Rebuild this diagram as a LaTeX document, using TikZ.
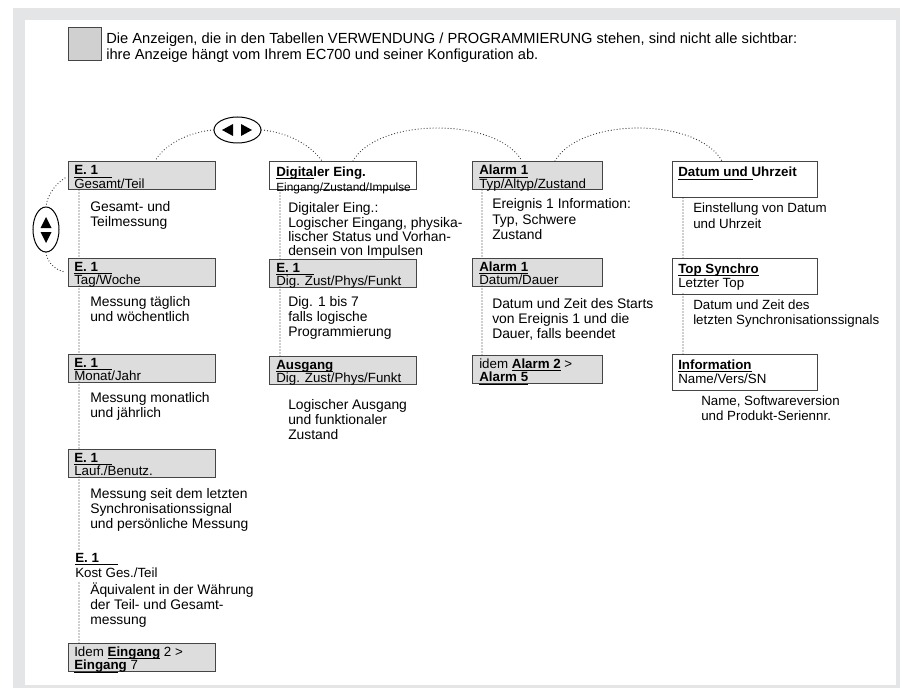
\documentclass[tikz,border=0pt]{standalone}
\usepackage{fontspec}
\setmainfont{Liberation Sans}
\usetikzlibrary{calc,shapes.geometric}
\definecolor{framegray}{HTML}{E4E5E6}
\definecolor{boxgray}{HTML}{DDDDDD}
\definecolor{legendgray}{HTML}{D0D0D0}
\definecolor{edgec}{HTML}{454545}
\definecolor{dotc}{HTML}{333333}
\newcommand\ulx[2]{\rlap{\rule[-2.4pt]{#1}{0.55pt}}#2}
\newcommand\ulf[1]{\setbox0\hbox{#1}\rlap{\rule[-2.4pt]{\wd0}{0.55pt}}\box0}
\newcommand\lines[1]{\begin{tabular}[t]{@{}l@{}}#1\end{tabular}}
\tikzset{
  gbox/.style={draw=edgec, fill=boxgray, line width=0.75pt, anchor=north west, inner sep=0pt, outer sep=0pt, minimum height=21pt},
  wbox/.style={gbox, fill=white},
  btxt/.style={anchor=base west, inner sep=0pt, font=\fontsize{10}{9.75}\selectfont},
  wtxt/.style={anchor=base west, inner sep=0pt, font=\fontsize{10}{10.5}\selectfont},
  desc/.style={anchor=base west, inner sep=0pt, font=\fontsize{10.4}{11.6}\selectfont},
  dots/.style={draw=dotc, line width=0.9pt, line cap=round, dash pattern=on 0pt off 2.25pt},
  oval/.style={ellipse, draw=black, line width=0.75pt, fill=white, inner sep=0pt}
}
\begin{document}
\begin{tikzpicture}[x=0.75pt,y=-0.75pt]
\useasboundingbox (0,0) rectangle (903,688);
\fill[white] (0,0) rectangle (903,688);
\fill[framegray] (13,8) rectangle (900,688);
\fill[white] (25,20) rectangle (896,685);

% legend
\node[draw=edgec, fill=legendgray, line width=0.75pt, anchor=north west, inner sep=0pt, minimum width=24.75pt, minimum height=24.75pt] (legend) at (68,27) {};
\node[anchor=base west, inner sep=0pt, font=\fontsize{11}{11.25}\selectfont] (hdr) at (106,44) {\lines{Die Anzeigen, die in den Tabellen VERWENDUNG / PROGRAMMIERUNG stehen, sind nicht alle sichtbar:\\ihre Anzeige hängt vom Ihrem EC700 und seiner Konfiguration ab.}};

% navigation ovals
\node[oval, minimum width=35.25pt, minimum height=19.5pt] (lr) at (237.5,130) {};
\fill (222,130) -- (233,124) -- (233,136) -- cycle;
\fill (252,130) -- (241,124) -- (241,136) -- cycle;
\node[oval, minimum width=19.5pt, minimum height=33.75pt] (ud) at (46,229.5) {};
\fill (46,217) -- (40.5,228) -- (51.5,228) -- cycle;
\fill (46,243) -- (40.5,232) -- (51.5,232) -- cycle;

% column 1
\node[gbox, minimum width=110.25pt] (a1) at (68,162) {};
\node[gbox, minimum width=110.25pt] (a2) at (68,258) {};
\node[gbox, minimum width=110.25pt] (a3) at (68,354) {};
\node[gbox, minimum width=110.25pt] (a4) at (68,449) {};
\node[gbox, minimum width=110.25pt] (a6) at (68,643) {};
\node[btxt] (a1t) at (74,175) {\lines{\textbf{\ulx{28pt}{E. 1}}\\Gesamt/Teil}};
\node[btxt] (a2t) at (74,271) {\lines{\textbf{\ulx{28pt}{E. 1}}\\Tag/Woche}};
\node[btxt] (a3t) at (74,367) {\lines{\textbf{\ulx{28pt}{E. 1}}\\Monat/Jahr}};
\node[btxt] (a4t) at (74,462) {\lines{\textbf{\ulx{28pt}{E. 1}}\\Lauf./Benutz.}};
\node[btxt] (a5t) at (75,562) {\lines{\textbf{\ulx{32pt}{E. 1}}\\[1.5pt]Kost Ges./Teil}};
\node[btxt] (a6t) at (74,656) {\lines{Idem \textbf{\ulf{Eingang}} 2 >\\\textbf{\ulx{33pt}{Eingang}} 7}};
\node[desc] (a1d) at (90,211) {\lines{Gesamt- und\\Teilmessung}};
\node[desc] (a2d) at (90,306) {\lines{Messung täglich\\und wöchentlich}};
\node[desc] (a3d) at (90,402) {\lines{Messung monatlich\\und jährlich}};
\node[desc] (a4d) at (90,498) {\lines{Messung seit dem letzten\\Synchronisationssignal\\und persönliche Messung}};
\node[desc] (a5d) at (90,594) {\lines{Äquivalent in der Währung\\der Teil- und Gesamt-\\messung}};
\coordinate (a5top) at (79,550);
\coordinate (a5bot) at (79,583);

% column 2
\node[wbox, minimum width=110.25pt] (b1) at (269,162) {};
\node[gbox, minimum width=110.25pt] (b2) at (269,259) {};
\node[gbox, minimum width=110.25pt] (b3) at (269,356) {};
\node[anchor=base west, inner sep=0pt] (b1t) at (276,176) {\lines{\fontsize{10}{12}\selectfont\textbf{\ulx{28.5pt}{Digitaler Eing.}}\\\fontsize{8.9}{12}\selectfont Eingang/Zustand/Impulse}};
\node[btxt] (b2t) at (276,272) {\lines{\textbf{\ulx{28pt}{E. 1}}\\Dig. Zust/Phys/Funkt}};
\node[btxt] (b3t) at (276,369) {\lines{\textbf{\ulf{Ausgang}}\\Dig. Zust/Phys/Funkt}};
\node[desc, font=\fontsize{10.4}{10.4}\selectfont] (b1d) at (288,213) {\lines{Digitaler Eing.:\\Logischer Eingang, physika-\\lischer Status und Vorhan-\\densein von Impulsen}};
\node[desc] (b2d) at (288,306) {\lines{Dig. 1 bis 7\\falls logische\\Programmierung}};
\node[desc] (b3d) at (288,409) {\lines{Logischer Ausgang\\und funktionaler\\Zustand}};

% column 3
\node[gbox, minimum width=97.5pt] (c1) at (472,162) {};
\node[gbox, minimum width=97.5pt] (c2) at (472,258) {};
\node[gbox, minimum width=97.5pt] (c3) at (472,355) {};
\node[btxt] (c1t) at (479,175) {\lines{\textbf{\ulf{Alarm 1}}\\Typ/Altyp/Zustand}};
\node[btxt] (c2t) at (479,271) {\lines{\textbf{\ulf{Alarm 1}}\\Datum/Dauer}};
\node[btxt] (c3t) at (479,368) {\lines{idem \textbf{\ulf{Alarm 2}} >\\\textbf{\ulf{Alarm 5}}}};
\node[desc] (c1d) at (492,209) {\lines{Ereignis 1 Information:\\Typ, Schwere\\Zustand}};
\node[desc] (c2d) at (492,308) {\lines{Datum und Zeit des Starts\\von Ereignis 1 und die\\Dauer, falls beendet}};

% column 4
\node[wbox, minimum width=108.75pt, minimum height=27pt] (d1) at (672,162) {};
\node[wbox, minimum width=108.75pt, minimum height=27pt] (d2) at (672,258) {};
\node[wbox, minimum width=108.75pt, minimum height=27pt] (d3) at (672,354) {};
\node[wtxt] (d1t) at (678,177) {\textbf{\ulx{56pt}{Datum und Uhrzeit}}};
\node[wtxt] (d2t) at (678,273) {\lines{\textbf{\ulf{Top Synchro}}\\Letzter Top}};
\node[wtxt] (d3t) at (678,369) {\lines{\textbf{\ulf{Information}}\\Name/Vers/SN}};
\node[desc, font=\fontsize{10}{11.4}\selectfont] (d1d) at (693,213) {\lines{Einstellung von Datum\\und Uhrzeit}};
\node[desc, font=\fontsize{10}{11.4}\selectfont] (d2d) at (693,309) {\lines{Datum und Zeit des\\letzten Synchronisationssignals}};
\node[desc, font=\fontsize{10}{11.4}\selectfont] (d3d) at (701,405) {\lines{Name, Softwareversion\\und Produkt-Seriennr.}};

% vertical dotted connectors
\draw[dots] ($(a1.south west)+(11,0)$) -- ($(a2.north west)+(11,0)$);
\draw[dots] ($(a2.south west)+(11,0)$) -- ($(a3.north west)+(11,0)$);
\draw[dots] ($(a3.south west)+(11,0)$) -- ($(a4.north west)+(11,0)$);
\draw[dots] ($(a4.south west)+(11,0)$) -- (a5top);
\draw[dots] (a5bot) -- ($(a6.north west)+(11,0)$);
\draw[dots] ($(b1.south west)+(11,0)$) -- ($(b2.north west)+(11,0)$);
\draw[dots] ($(b2.south west)+(11,0)$) -- ($(b3.north west)+(11,0)$);
\draw[dots] ($(c1.south west)+(10,0)$) -- ($(c2.north west)+(10,0)$);
\draw[dots] ($(c2.south west)+(10,0)$) -- ($(c3.north west)+(10,0)$);
\draw[dots] ($(d1.south west)+(11,0)$) -- ($(d2.north west)+(11,0)$);
\draw[dots] ($(d2.south west)+(11,0)$) -- ($(d3.north west)+(11,0)$);

% dotted navigation arcs
\draw[dots] (lr.west) .. controls (188,132) and (164,145) .. ($(a1.north west)+(87,-1)$);
\draw[dots] (lr.east) .. controls (287,132) and (311,145) .. ($(b1.north west)+(53,-1)$);
\draw[dots] ($(b1.north west)+(84,-1)$) .. controls (378,117) and (497,117) .. ($(c1.north west)+(50,-1)$);
\draw[dots] ($(c1.north west)+(83,-1)$) .. controls (580,117) and (697,117) .. ($(d1.north west)+(50,-1)$);
\draw[dots] ($(a1.west)+(-3,2)$) .. controls (55,184) and (47,196) .. (ud.north);
\draw[dots] (ud.south) .. controls (47,262) and (55,270) .. ($(a2.west)+(-3,0)$);
\end{tikzpicture}
\end{document}
